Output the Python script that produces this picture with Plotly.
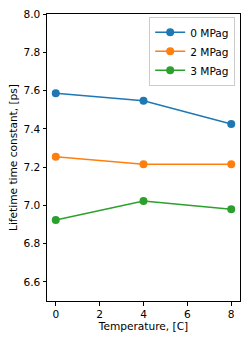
import plotly.graph_objects as go

temps = [0, 4, 8]
series_names = ["0 MPag", "2 MPag", "3 MPag"]
vals_0 = [7.586, 7.547, 7.425]
vals_2 = [7.254, 7.215, 7.215]
vals_3 = [6.923, 7.022, 6.979]
colors = ["#1f77b4", "#ff7f0e", "#2ca02c"]

FS = 10.6
fig = go.Figure()
for name, vals, c in zip(series_names, [vals_0, vals_2, vals_3], colors):
    fig.add_trace(go.Scatter(x=temps, y=vals, name=name, mode="lines+markers",
                             line=dict(color=c, width=1.5),
                             marker=dict(color=c, size=8)))

axis_common = dict(showline=True, linecolor="black", linewidth=1, mirror=True,
                   ticks="outside", ticklen=3.5, tickwidth=1, tickcolor="black",
                   showgrid=False, zeroline=False,
                   tickfont=dict(family="DejaVu Sans", size=FS, color="black"))
fig.update_xaxes(range=[-0.4, 8.4], tickvals=[0, 2, 4, 6, 8],
                 title=dict(text="Temperature, [C]", standoff=3,
                            font=dict(family="DejaVu Sans", size=FS, color="black")),
                 **axis_common)
fig.update_yaxes(range=[6.5, 8.0], tickvals=[6.6, 6.8, 7.0, 7.2, 7.4, 7.6, 7.8, 8.0],
                 tickformat=".1f",
                 title=dict(text="Lifetime time constant, [ps]", standoff=3,
                            font=dict(family="DejaVu Sans", size=FS, color="black")),
                 **axis_common)
fig.update_layout(width=249, height=341, plot_bgcolor="white", paper_bgcolor="white",
                  margin=dict(l=47, r=8, t=12, b=40),
                  font=dict(family="DejaVu Sans", size=FS, color="black"),
                  legend=dict(x=0.975, y=0.99, xanchor="right", yanchor="top",
                              bgcolor="white", bordercolor="#cccccc", borderwidth=1,
                              itemwidth=30, tracegroupgap=0,
                              font=dict(size=FS)))
fig.write_html("out.html", config={"displayModeBar": False},
               post_script="document.body.style.margin='0';document.body.style.overflow='hidden';")
